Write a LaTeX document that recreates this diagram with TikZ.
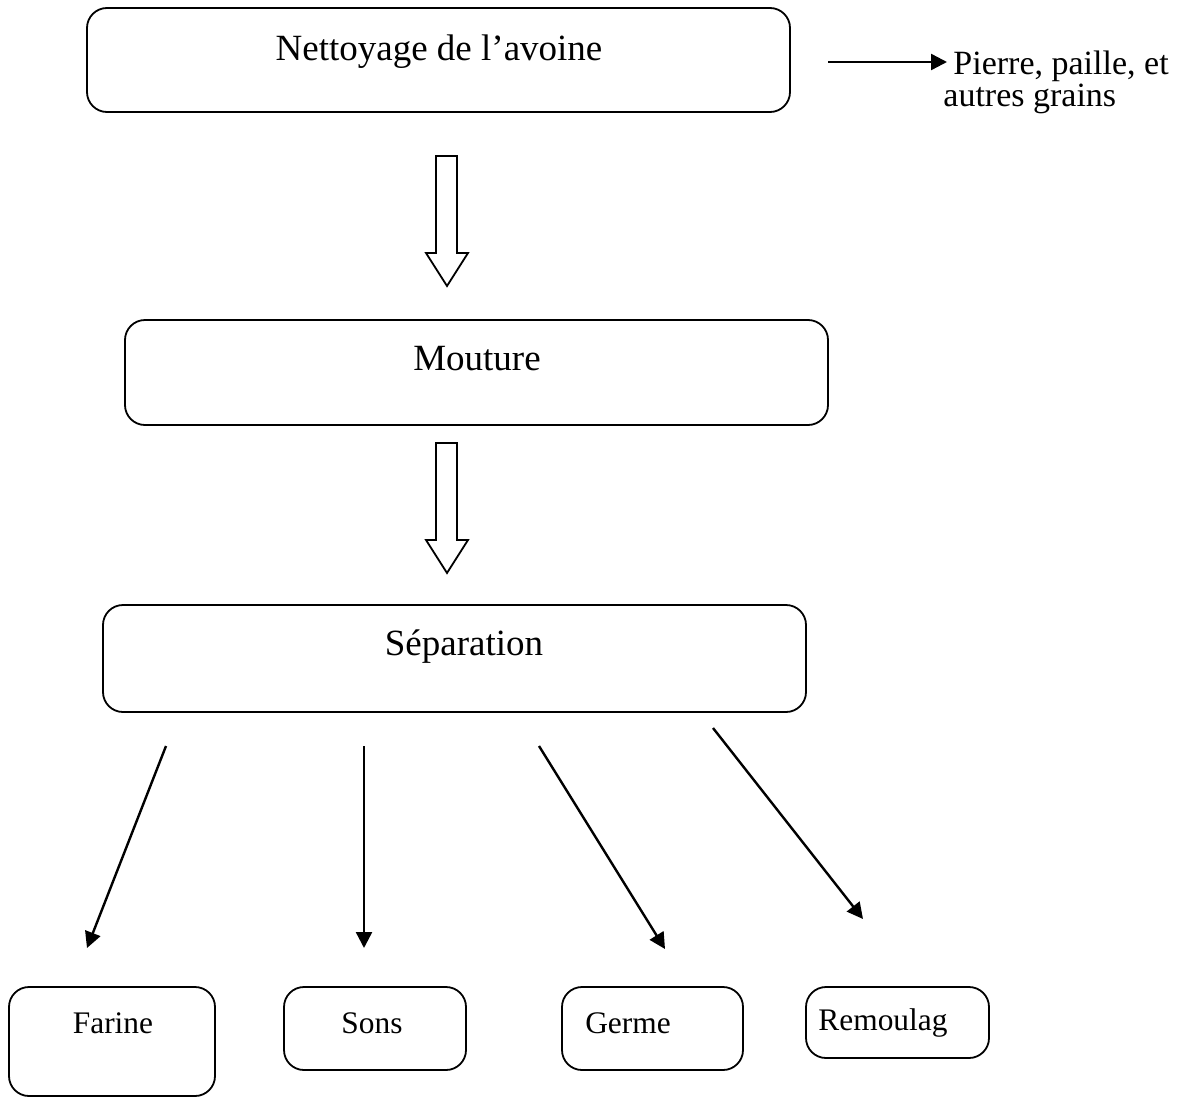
\documentclass[tikz,border=0pt]{standalone}
\usepackage{fontspec}
\setmainfont{Liberation Serif}
\usetikzlibrary{fit,arrows.meta}
\tikzset{
  box/.style={draw, line width=0.9pt, rounded corners=10pt, inner sep=0pt},
  bigtxt/.style={font=\fontsize{18.5}{22}\selectfont, anchor=base, inner sep=0pt},
  smalltxt/.style={font=\fontsize{15.7}{19}\selectfont, anchor=base, inner sep=0pt},
  hollow/.style={draw, line width=0.9pt, fill=white, line join=miter},
  flow/.style={line width=1.2pt, -{Triangle[length=8pt,width=8pt]}},
}
\begin{document}
\begin{tikzpicture}[x=0.5pt,y=-0.5pt]
\useasboundingbox (0,0) rectangle (1192,1097);
% main boxes
\node[box, fit={(87,8) (790,112)}] (b1) {};
\node[bigtxt] (t1) at (439,61) {Nettoyage de l’avoine};
\node[box, fit={(125,320) (828,425)}] (b2) {};
\node[bigtxt] (t2) at (477,370) {Mouture};
\node[box, fit={(103,605) (806,712)}] (b3) {};
\node[bigtxt] (t3) at (464,655) {Séparation};
% bottom boxes
\node[box, fit={(9,987) (215,1096)}] (f) {};
\node[smalltxt] (tf) at (113,1033) {Farine};
\node[box, fit={(284,987) (466,1070)}] (s) {};
\node[smalltxt] (ts) at (372,1033) {Sons};
\node[box, fit={(562,987) (743,1070)}] (g) {};
\node[smalltxt] (tg) at (628,1033) {Germe};
\node[box, fit={(806,987) (989,1058)}] (r) {};
\node[smalltxt] (tr) at (883,1030) {Remoulag};
% side output
\coordinate (a0) at (828,62);
\coordinate (a1) at (947,62);
\draw[flow] (a0) -- (a1);
\node[font=\fontsize{17}{14.5}\selectfont, anchor=north west, inner sep=0pt, align=left] (side) at (943,51)
  {\hspace{5pt}Pierre, paille, et\\autres grains};
% hollow arrows
\draw[hollow] (436,156) -- (457,156) -- (457,253) -- (468,253) -- (447,286) -- (426,253) -- (436,253) -- cycle;
\draw[hollow] (436,443) -- (457,443) -- (457,540) -- (468,540) -- (447,573) -- (426,540) -- (436,540) -- cycle;
% separation arrows
\coordinate (s1) at (166,746); \coordinate (e1) at (87,948);
\coordinate (s2) at (364,746); \coordinate (e2) at (364,948);
\coordinate (s3) at (539,746); \coordinate (e3) at (665,949);
\coordinate (s4) at (713,728); \coordinate (e4) at (863,919);
\draw[flow] (s1) -- (e1);
\draw[flow] (s2) -- (e2);
\draw[flow] (s3) -- (e3);
\draw[flow] (s4) -- (e4);
\end{tikzpicture}
\end{document}
